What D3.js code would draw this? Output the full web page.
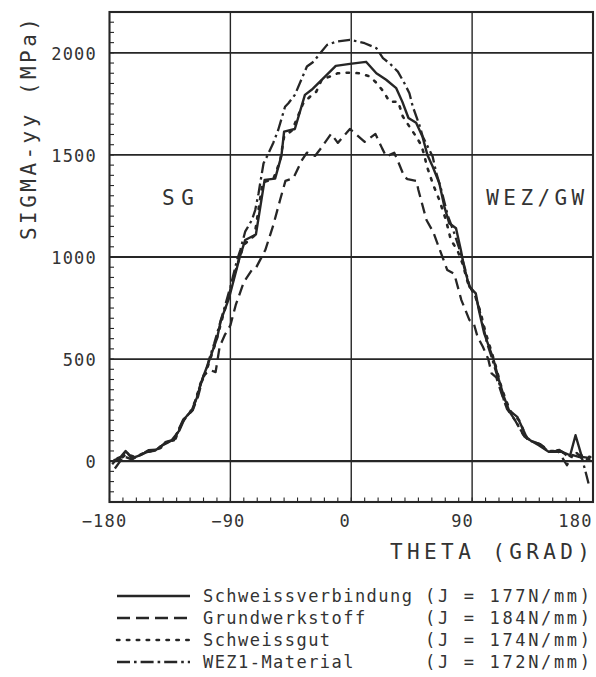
<!DOCTYPE html>
<html>
<head>
<meta charset="utf-8">
<script src="https://cdn.jsdelivr.net/npm/d3@7"></script>
<style>
  html, body { margin: 0; padding: 0; background: #fff; }
  svg { display: block; }
  text { font-family: "DejaVu Sans Mono", "Liberation Mono", monospace; fill: #333; }
</style>
</head>
<body>
<svg id="chart" width="596" height="677"></svg>
<script>
// ---------------- data ----------------
const xTicks = [-180, -90, 0, 90, 180];
const yTicks = [0, 500, 1000, 1500, 2000];
const xLabel = "THETA (GRAD)";
const yLabel = "SIGMA-yy (MPa)";
const regionLabels = [["SG", -129, 1255], ["WEZ/GW", 137, 1255]];

const seriesNames = ["Schweissverbindung", "Grundwerkstoff", "Schweissgut", "WEZ1-Material"];
const seriesJ = ["(J = 177N/mm)", "(J = 184N/mm)", "(J = 174N/mm)", "(J = 172N/mm)"];

// Schweissverbindung (solid)  [theta, sigma]
const schweissverbindung = [[-177,5],[-173,10],[-168,50],[-163,15],[-157,30],[-152,45],[-146,52],[-140,80],[-134,100],[-128,150],[-124,210],[-119,245],[-115,310],[-111,400],[-107,470],[-103,545],[-100,600],[-97,691],[-91,799],[-83,1000],[-79,1083],[-71,1110],[-64.5,1378],[-56.7,1384],[-52,1495],[-50,1614],[-42,1627],[-34.5,1794],[-29.5,1819],[-22,1868],[-11.5,1936],[-1,1946],[11,1956],[18.7,1900],[26,1868],[33.5,1827],[38,1761],[42.6,1681],[48.3,1657],[53,1590],[56.7,1500],[60.6,1443],[65.6,1361],[69.3,1247],[73,1165],[78,1141],[81.6,1034],[84,952],[88,854],[92.7,822],[95,740],[99,626],[102.6,560],[106,495],[110,397],[113.7,315],[117.4,250],[123.6,217],[131,111],[139.6,78],[147,46],[157,46],[163,29],[167,127],[171.7,21],[178,15]];

// Grundwerkstoff (dashed)
const grundwerkstoff = [[-178,-15],[-174,15],[-170,25],[-164,10],[-158,28],[-151,50],[-145,55],[-138,92],[-132,102],[-125,200],[-118,250],[-114,318],[-110,420],[-105,446],[-101,436],[-98,560],[-94,620],[-90,665],[-86,765],[-80,877],[-74,936],[-71,946],[-64,1034],[-58,1157],[-53,1279],[-49,1373],[-43,1387],[-37,1471],[-33,1511],[-27,1495],[-23,1529],[-15,1603],[-10,1559],[-1,1627],[10,1564],[18,1603],[23,1532],[26,1492],[32,1511],[34.4,1475],[39.6,1392],[42,1381],[48.5,1373],[50,1328],[56,1181],[61,1123],[66,1034],[71.5,936],[76.7,917],[82,789],[88,691],[91,680],[94,610],[98,560],[102,500],[104.5,430],[108,410],[112,330],[116,255],[122,200],[128,130],[134,100],[141,82],[148,48],[154,50],[160.6,-20],[165,30],[170,20],[178,5]];

// Schweissgut (dotted)
const schweissgut = [[-177,0],[-172,12],[-167,35],[-161,20],[-155,38],[-148,52],[-142,65],[-136,96],[-131,108],[-126,190],[-120,240],[-116,295],[-112,385],[-108,440],[-104,520],[-101,580],[-96,700],[-92,790],[-85,960],[-80,1060],[-72,1105],[-66,1365],[-58,1382],[-53,1470],[-50,1590],[-44,1620],[-36,1750],[-30,1790],[-26,1810],[-22,1868],[-16,1884],[-10,1900],[-1,1903],[6,1900],[14,1884],[19,1851],[24,1810],[28.5,1761],[35,1760],[38.4,1688],[43.3,1639],[48.3,1590],[52,1549],[54.4,1500],[56,1451],[60.6,1361],[65.6,1279],[70.5,1181],[74.2,1083],[79,1034],[83,965],[87,870],[92,815],[96,735],[100,630],[104,545],[107,480],[111,380],[115,300],[119,240],[125,200],[131,110],[140,82],[147,50],[156,48],[163,25],[170,30],[178,20]];

// WEZ1-Material (dash-dot)
const wez1Material = [[-176,-36],[-172,0],[-168,50],[-163,10],[-157,30],[-151,54],[-145,56],[-138,95],[-132,105],[-125,205],[-118,252],[-116,300],[-112,381],[-108.5,430],[-106,495],[-102,577],[-98,670],[-94,760],[-90,854],[-85,985],[-82.6,1034],[-79,1124],[-74,1181],[-71.5,1230],[-69,1312],[-67.8,1361],[-65.3,1459],[-62.8,1492],[-58,1560],[-54.4,1622],[-49.3,1736],[-46.8,1753],[-42,1794],[-33,1933],[-28,1957],[-23,1999],[-18,2039],[-11,2055],[-1,2064],[5,2055],[10,2047],[18.7,2023],[23.6,1974],[28.5,1949],[34.7,1908],[39.6,1851],[43.3,1802],[45.8,1737],[50.7,1647],[53.2,1590],[60.6,1492],[63.3,1412],[67,1330],[72,1200],[76,1130],[80,1050],[84,960],[88,860],[93,800],[97,700],[101,580],[105,500],[109,410],[114,290],[118,240],[123,190],[129,120],[133,100],[140,85],[147,46],[155,55],[162,20],[168,40],[172,10],[176.7,-109]];

const allSeries = [schweissverbindung, grundwerkstoff, schweissgut, wez1Material];

// ---------------- styles ----------------
const ink = "#262626";
const dashes = [null, "11,6", "2.4,7.5", "12,4,2.6,4"];
const seriesWidth = [2.4, 2.3, 2.6, 2.3];
const xLabelShift = [-5.5, -2.5, -6.5, -10, -18];

// ---------------- layout ----------------
const svg = d3.select("#chart");
const x = d3.scaleLinear().domain([-180, 180]).range([109.5, 593]);
const y = d3.scaleLinear().domain([-200, 2200]).range([502, 12]);
const [x0, x1] = x.range();
const [y0, y1] = y.range();

svg.append("rect").attr("width", 596).attr("height", 677).attr("fill", "#fff");

const g = svg.append("g");

// gridlines
g.append("g").selectAll("line").data(yTicks).join("line")
  .attr("x1", x0).attr("x2", x1)
  .attr("y1", d => y(d)).attr("y2", d => y(d))
  .attr("stroke", ink).attr("stroke-width", d => d === 0 ? 2.4 : 1.9);
g.append("g").selectAll("line").data(xTicks.filter(d => d > -180 && d < 180)).join("line")
  .attr("x1", d => x(d)).attr("x2", d => x(d))
  .attr("y1", y1).attr("y2", y0)
  .attr("stroke", ink).attr("stroke-width", 1.4);

// minor ticks
g.append("g").selectAll("line").data(d3.range(-200, 2201, 50)).join("line")
  .attr("x1", x0).attr("x2", x0 + 4.5)
  .attr("y1", d => y(d)).attr("y2", d => y(d))
  .attr("stroke", ink).attr("stroke-width", 1.1);
g.append("g").selectAll("line").data(d3.range(-180, 181, 10)).join("line")
  .attr("x1", d => x(d)).attr("x2", d => x(d))
  .attr("y1", y0).attr("y2", y0 - 4.5)
  .attr("stroke", ink).attr("stroke-width", 1.1);

// frame
g.append("rect").attr("x", x0).attr("y", y1)
  .attr("width", x1 - x0).attr("height", y0 - y1)
  .attr("fill", "none").attr("stroke", ink).attr("stroke-width", 2.1);

// curves
const line = d3.line().x(d => x(d[0])).y(d => y(d[1]));
g.append("g").selectAll("path").data(allSeries).join("path")
  .attr("d", line)
  .attr("fill", "none")
  .attr("stroke", ink)
  .attr("stroke-width", (d, i) => seriesWidth[i])
  .attr("stroke-linejoin", "round")
  .attr("stroke-linecap", (d, i) => i === 2 ? "round" : "butt")
  .attr("stroke-dasharray", (d, i) => dashes[i]);

// y axis labels
const yAxis = d3.axisLeft(y).tickValues(yTicks).tickSize(0).tickPadding(12.5).tickFormat(d3.format("d"));
const ya = svg.append("g").attr("transform", `translate(${x0},0)`).call(yAxis);
ya.select(".domain").remove();
ya.selectAll("text").attr("font-size", 17).attr("letter-spacing", 1.2)
  .attr("font-family", "DejaVu Sans Mono").attr("fill", "#333").attr("dy", "0.38em");

// x axis labels
const xAxis = d3.axisBottom(x).tickValues(xTicks).tickSize(0).tickFormat(d3.format("d"));
const xa = svg.append("g").attr("transform", `translate(0,${y0})`).call(xAxis);
xa.select(".domain").remove();
xa.selectAll("text").attr("font-size", 17).attr("letter-spacing", 1.2)
  .attr("font-family", "DejaVu Sans Mono").attr("fill", "#333")
  .attr("y", 25).attr("dy", 0)
  .attr("dx", (d, i) => xLabelShift[i]);

// axis titles
svg.append("text").attr("x", 590).attr("y", 559)
  .attr("text-anchor", "end").attr("font-size", 21)
  .attr("textLength", 200).attr("lengthAdjust", "spacing")
  .text(xLabel);
svg.append("text").attr("transform", "translate(36,129) rotate(-90)")
  .attr("text-anchor", "middle").attr("font-size", 21)
  .attr("textLength", 222).attr("lengthAdjust", "spacing")
  .text(yLabel);

// region labels
svg.append("g").selectAll("text").data(regionLabels).join("text")
  .attr("x", d => x(d[1])).attr("y", d => y(d[2]))
  .attr("text-anchor", "middle").attr("font-size", 21)
  .attr("textLength", d => d[0].length * 16.5 - 1)
  .attr("lengthAdjust", "spacing")
  .text(d => d[0]);

// legend
const leg = svg.append("g");
const rows = seriesNames.map((n, i) => i);
const rowY = i => 596 + i * 22;
const legDashes = [null, "13,6", "2.4,7.5", "13,4,2.6,4"];
leg.selectAll("line").data(rows).join("line")
  .attr("x1", 117).attr("x2", 190)
  .attr("y1", rowY).attr("y2", rowY)
  .attr("stroke", ink)
  .attr("stroke-width", d => seriesWidth[d])
  .attr("stroke-linecap", d => d === 2 ? "round" : "butt")
  .attr("stroke-dasharray", d => legDashes[d]);
leg.selectAll("text.name").data(rows).join("text").attr("class", "name")
  .attr("x", 203).attr("y", d => rowY(d) + 6)
  .attr("font-size", 17).attr("letter-spacing", 1.45)
  .text(d => seriesNames[d]);
leg.selectAll("text.j").data(rows).join("text").attr("class", "j")
  .attr("x", 425).attr("y", d => rowY(d) + 6)
  .attr("font-size", 17)
  .attr("textLength", 165).attr("lengthAdjust", "spacing")
  .text(d => seriesJ[d]);
</script>
</body>
</html>
